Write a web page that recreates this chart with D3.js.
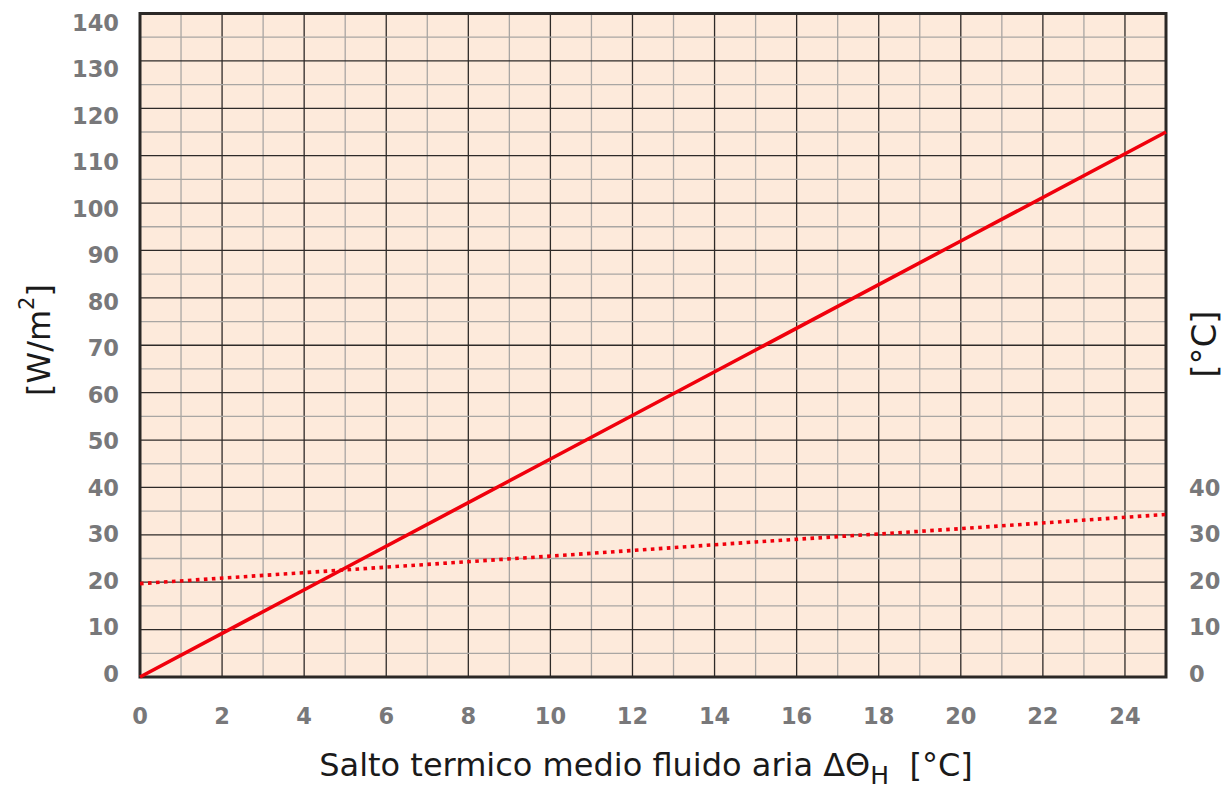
<!DOCTYPE html>
<html>
<head>
<meta charset="utf-8">
<script src="https://cdn.jsdelivr.net/npm/d3@7"></script>
<style>
  html, body { margin: 0; padding: 0; background: #fff; }
  svg { display: block; }
</style>
</head>
<body>
<svg id="chart" width="1227" height="790"></svg>
<script>
// Heat output [W/m²] versus mean fluid–air temperature difference
const deltaTheta = [0, 5, 10, 15, 20, 25];
const heatOutput = [0, 23, 46, 69, 92, 115];              // W/m² (solid)
const surfaceTemp = [19.7, 22.6, 25.5, 28.5, 31.3, 34.3]; // °C (dotted)

const xTicks = [0, 2, 4, 6, 8, 10, 12, 14, 16, 18, 20, 22, 24];
const yLeftTicks = [0, 10, 20, 30, 40, 50, 60, 70, 80, 90, 100, 110, 120, 130, 140];
const yRightTicks = [0, 10, 20, 30, 40];

const svg = d3.select("#chart");
const plot = { left: 140, right: 1166, top: 13.5, bottom: 677 };

const x = d3.scaleLinear().domain([0, 25]).range([plot.left, plot.right]);
const y = d3.scaleLinear().domain([0, 140]).range([plot.bottom, plot.top]);
// tick labels are set on a slightly tighter pitch than the grid
const yLabel = d3.scaleLinear().domain([0, 140]).range([673, 22]);

const minorGrid = "#a9a6a3";
const majorGrid = "#2e2a28";
const labelGray = "#78787a";

// background
svg.append("rect")
  .attr("x", plot.left).attr("y", plot.top)
  .attr("width", plot.right - plot.left).attr("height", plot.bottom - plot.top)
  .attr("fill", "#fdeadb");

const grid = svg.append("g");
// vertical grid: every 1 °C, dark every 2 °C
d3.range(1, 25).forEach(v => {
  grid.append("line")
    .attr("x1", x(v)).attr("x2", x(v))
    .attr("y1", plot.top).attr("y2", plot.bottom)
    .attr("stroke", v % 2 === 0 ? majorGrid : minorGrid)
    .attr("stroke-width", 1.3);
});
// horizontal grid: every 5, dark every 10
d3.range(5, 140, 5).forEach(v => {
  grid.append("line")
    .attr("x1", plot.left).attr("x2", plot.right)
    .attr("y1", y(v)).attr("y2", y(v))
    .attr("stroke", v % 10 === 0 ? majorGrid : minorGrid)
    .attr("stroke-width", 1.3);
});

// frame
svg.append("rect")
  .attr("x", plot.left).attr("y", plot.top)
  .attr("width", plot.right - plot.left).attr("height", plot.bottom - plot.top)
  .attr("fill", "none").attr("stroke", "#2b2826").attr("stroke-width", 3);

// series
const line = d3.line().x(d => x(d[0])).y(d => y(d[1]));
svg.append("path")
  .datum(deltaTheta.map((d, i) => [d, surfaceTemp[i]]))
  .attr("d", line)
  .attr("fill", "none").attr("stroke", "#f0000c")
  .attr("stroke-width", 3.6).attr("stroke-dasharray", "3.6,4.4");
svg.append("path")
  .datum(deltaTheta.map((d, i) => [d, heatOutput[i]]))
  .attr("d", line)
  .attr("fill", "none").attr("stroke", "#f0000c")
  .attr("stroke-width", 3.6);

const tickFont = "'DejaVu Sans', Verdana, sans-serif";
const tickSize = 22.5;

// x tick labels
svg.append("g").selectAll("text").data(xTicks).join("text")
  .attr("x", d => x(d)).attr("y", 723.5)
  .attr("text-anchor", "middle")
  .attr("font-family", tickFont).attr("font-weight", "bold")
  .attr("font-size", tickSize).attr("fill", labelGray)
  .text(d => d);

// left tick labels
svg.append("g").selectAll("text").data(yLeftTicks).join("text")
  .attr("x", 119).attr("y", d => yLabel(d) + 8.5)
  .attr("text-anchor", "end")
  .attr("font-family", tickFont).attr("font-weight", "bold")
  .attr("font-size", tickSize).attr("fill", labelGray)
  .text(d => d);

// right tick labels
svg.append("g").selectAll("text").data(yRightTicks).join("text")
  .attr("x", 1189).attr("y", d => yLabel(d) + 8.5)
  .attr("text-anchor", "start")
  .attr("font-family", tickFont).attr("font-weight", "bold")
  .attr("font-size", tickSize).attr("fill", labelGray)
  .text(d => d);

const titleFont = "Tahoma, 'DejaVu Sans', Verdana, sans-serif";

// x axis title
const xt = svg.append("text")
  .attr("x", 646).attr("y", 776)
  .attr("text-anchor", "middle")
  .attr("font-family", titleFont).attr("font-size", 32).attr("fill", "#1a1a1a");
xt.append("tspan").text("Salto termico medio fluido aria ΔΘ");
xt.append("tspan").attr("font-size", 25).attr("dy", 8).text("H");
xt.append("tspan").attr("dy", -8).text("\u00a0 [°C]");

// left axis title
const lt = svg.append("text")
  .attr("transform", "translate(50,340) rotate(-90)")
  .attr("text-anchor", "middle")
  .attr("font-family", titleFont).attr("font-size", 32).attr("fill", "#1a1a1a");
lt.append("tspan").text("[W/m");
lt.append("tspan").attr("font-size", 21).attr("dy", -16).text("2");
lt.append("tspan").attr("dy", 16).text("]");

// right axis title
svg.append("text")
  .attr("transform", "translate(1216,344) rotate(-90)")
  .attr("text-anchor", "middle")
  .attr("font-family", titleFont).attr("font-size", 34).attr("fill", "#1a1a1a")
  .text("[°C]");
</script>
</body>
</html>
